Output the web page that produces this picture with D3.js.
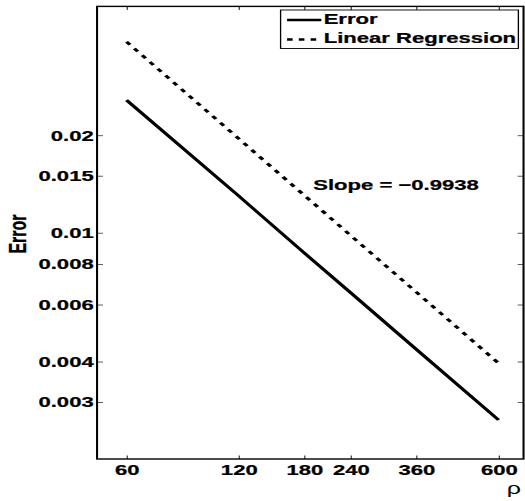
<!DOCTYPE html>
<html lang="en">
<head>
  <meta charset="UTF-8">
  <title>Error vs rho (log-log)</title>
  <script src="https://d3js.org/d3.v7.min.js"></script>
  <style>
    body { margin: 0; background: #fff; }
    svg { display: block; }
    text { font-family: "Liberation Sans", Arial, sans-serif; }
    .heavy { stroke: #000; stroke-width: 0.25px; }
  </style>
</head>
<body>
  <svg id="chart"></svg>
  <script>
    // data
    const rho = [60, 120, 180, 240, 360, 600];
    const errorValues = [0.02567, 0.0130, 0.00867, 0.00653, 0.00437, 0.00264];
    const regRho = [60, 600];
    const regValues = [0.0389, 0.00395];
    const xTicks = [60, 120, 180, 240, 360, 600];
    const yTicks = [0.003, 0.004, 0.006, 0.008, 0.01, 0.015, 0.02];
    const slopeLabel = "Slope = \u22120.9938";

    // the original figure is stretched horizontally, so draw in a narrower
    // coordinate space and let the viewBox stretch it
    const W = 357, H = 501;
    const svg = d3.select("#chart")
      .attr("width", 525).attr("height", 501)
      .attr("viewBox", `0 0 ${W} ${H}`)
      .attr("preserveAspectRatio", "none");

    const plotL = 66, plotR = 356, plotT = 6.4, plotB = 459;

    const x = d3.scaleLog().domain([50, 700]).range([plotL, plotR]);
    const y = d3.scaleLog().domain([0.002, 0.05]).range([plotB, plotT]);

    // axes with inward ticks
    const fmtY = d => String(d);
    const gx = svg.append("g").attr("transform", `translate(0,${plotB})`)
      .call(d3.axisBottom(x).tickValues(xTicks).tickFormat(d3.format("d"))
        .tickSize(-3.5).tickSizeOuter(0).tickPadding(5.3));
    const gxTop = svg.append("g").attr("transform", `translate(0,${plotT})`)
      .call(d3.axisTop(x).tickValues(xTicks).tickFormat("")
        .tickSize(-3.5).tickSizeOuter(0));
    const gy = svg.append("g").attr("transform", `translate(${plotL},0)`)
      .call(d3.axisLeft(y).tickValues(yTicks).tickFormat(fmtY)
        .tickSize(-4).tickSizeOuter(0).tickPadding(2.3));
    const gyRight = svg.append("g").attr("transform", `translate(${plotR},0)`)
      .call(d3.axisRight(y).tickValues(yTicks).tickFormat("")
        .tickSize(-4).tickSizeOuter(0));

    [gx, gxTop, gy, gyRight].forEach(g => {
      g.select(".domain").remove();
      g.selectAll(".tick line").attr("stroke", "#333").attr("stroke-width", 0.8);
      g.selectAll(".tick text")
        .attr("class", "heavy")
        .attr("fill", "#000")
        .attr("font-size", 15)
        .attr("font-weight", "bold")
        .attr("font-family", "'Liberation Sans', Arial, sans-serif");
    });

    // frame
    svg.append("rect")
      .attr("x", plotL).attr("y", plotT)
      .attr("width", plotR - plotL).attr("height", plotB - plotT)
      .attr("fill", "none").attr("stroke", "#000").attr("stroke-width", 1.4);

    const line = d3.line().x(d => x(d[0])).y(d => y(d[1]));

    svg.append("path")
      .datum(rho.map((r, i) => [r, errorValues[i]]))
      .attr("fill", "none").attr("stroke", "#000")
      .attr("stroke-width", 2.6)
      .attr("d", line);

    svg.append("path")
      .datum(regRho.map((r, i) => [r, regValues[i]]))
      .attr("fill", "none").attr("stroke", "#000")
      .attr("stroke-width", 2.6)
      .attr("stroke-dasharray", "3.8,4.8")
      .attr("d", line);

    // slope annotation
    svg.append("text")
      .attr("class", "heavy")
      .attr("x", 213).attr("y", 190)
      .attr("font-size", 15).attr("font-weight", "bold")
      .text(slopeLabel);

    // axis labels
    svg.append("text")
      .attr("class", "heavy")
      .attr("transform", "translate(17.7,234) rotate(-90)")
      .attr("text-anchor", "middle")
      .attr("font-size", 16).attr("font-weight", "bold")
      .text("Error");
    svg.append("text")
      .attr("x", 349.5).attr("y", 494)
      .attr("text-anchor", "middle")
      .attr("font-size", 17)
      .text("\u03c1");

    // legend
    const legend = svg.append("g");
    legend.append("rect")
      .attr("x", 190.8).attr("y", 10)
      .attr("width", 161.7).attr("height", 38.5)
      .attr("fill", "#fff").attr("stroke", "#000").attr("stroke-width", 0.9);
    const items = [
      { name: "Error", dash: null, y: 20, base: 24 },
      { name: "Linear Regression", dash: "3.8,4.2", y: 39.5, base: 43.3 }
    ];
    items.forEach(it => {
      legend.append("line")
        .attr("x1", 195.2).attr("x2", 218.5)
        .attr("y1", it.y).attr("y2", it.y)
        .attr("stroke", "#000").attr("stroke-width", 2.6)
        .attr("stroke-dasharray", it.dash);
      legend.append("text")
        .attr("class", "heavy")
        .attr("x", 220.1).attr("y", it.base)
        .attr("font-size", 15).attr("font-weight", "bold")
        .text(it.name);
    });
  </script>
</body>
</html>
